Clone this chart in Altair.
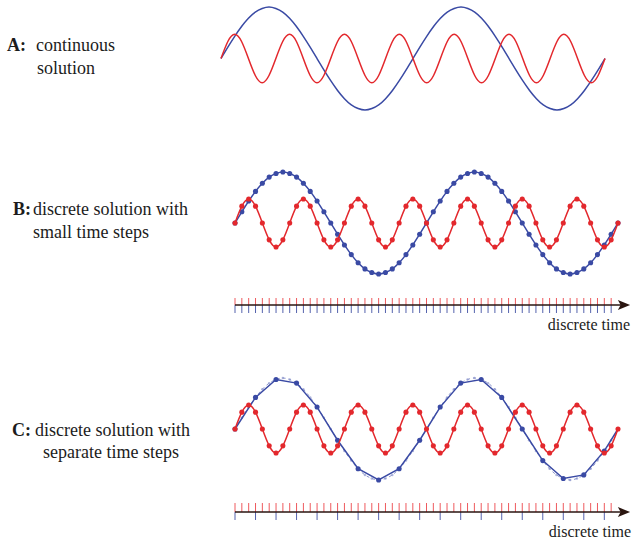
import altair as alt
import pandas as pd

# Sampled solutions at each discrete time step: slow mode (blue), fast mode (red)
blue_values = [
    0.00, 0.22, 0.43, 0.62, 0.78, 0.90, 0.97, 1.00, 0.97, 0.90, 0.78, 0.62, 0.43, 0.22,
    0.00, -0.22, -0.43, -0.62, -0.78, -0.90, -0.97, -1.00, -0.97, -0.90, -0.78, -0.62, -0.43, -0.22,
    0.00, 0.22, 0.43, 0.62, 0.78, 0.90, 0.97, 1.00, 0.97, 0.90, 0.78, 0.62, 0.43, 0.22,
    0.00, -0.22, -0.43, -0.62, -0.78, -0.90, -0.97, -1.00, -0.97, -0.90, -0.78, -0.62, -0.43, -0.22,
    0.00,
]
red_values = [
    0.00, 0.33, 0.47, 0.33, 0.00, -0.33, -0.47, -0.33,
    0.00, 0.33, 0.47, 0.33, 0.00, -0.33, -0.47, -0.33,
    0.00, 0.33, 0.47, 0.33, 0.00, -0.33, -0.47, -0.33,
    0.00, 0.33, 0.47, 0.33, 0.00, -0.33, -0.47, -0.33,
    0.00, 0.33, 0.47, 0.33, 0.00, -0.33, -0.47, -0.33,
    0.00, 0.33, 0.47, 0.33, 0.00, -0.33, -0.47, -0.33,
    0.00, 0.33, 0.47, 0.33, 0.00, -0.33, -0.47, -0.33,
    0.00,
]
steps = list(range(len(blue_values)))
fine_ticks = list(range(56))            # small time steps on the time axis
coarse_steps = list(range(0, 55, 3))    # separate, larger steps for the slow mode
coarse_line_steps = coarse_steps + [56]

BLUE = "#3a4aa4"
RED = "#e3282d"
BLUE_TICK = "#5563ad"
RED_TICK = "#ee5a5e"
DARK = "#2a1510"
TEXT = "#1c1c1c"
FONT = "Times New Roman, Liberation Serif, Times, serif"

samples = pd.DataFrame({"step": steps, "blue": blue_values, "red": red_values})
coarse_dots = samples[samples["step"].isin(coarse_steps)]
coarse_line = samples[samples["step"].isin(coarse_line_steps)]
one_row = pd.DataFrame({"k": [0]})


def x_enc(rng):
    return alt.X("step:Q", scale=alt.Scale(domain=[0, 56], range=rng), axis=None)


def y_enc(field, rng):
    return alt.Y(f"{field}:Q", scale=alt.Scale(domain=[-1, 1], range=rng), axis=None)


def curve(data, field, color, xr, yr, width=1.5, **kw):
    return alt.Chart(data).mark_line(color=color, strokeWidth=width, **kw).encode(
        x=x_enc(xr), y=y_enc(field, yr)
    )


def dots(data, field, color, xr, yr, size=26, opacity=1.0):
    return alt.Chart(data).mark_circle(color=color, size=size, opacity=opacity).encode(
        x=x_enc(xr), y=y_enc(field, yr)
    )


def label(text, x, y, size=18, bold=False, align="left"):
    return alt.Chart(one_row).mark_text(
        text=text, align=align, baseline="alphabetic", font=FONT,
        fontSize=size, fontWeight="bold" if bold else "normal", color=TEXT,
    ).encode(x=alt.value(x), y=alt.value(y))


def ticks(values, color, xr, y_top, y_bottom):
    df = pd.DataFrame({"step": values})
    return alt.Chart(df).mark_rule(color=color, strokeWidth=1).encode(
        x=x_enc(xr), y=alt.value(y_top), y2=alt.value(y_bottom)
    )


def time_axis(y):
    line = alt.Chart(one_row).mark_rule(color=DARK, strokeWidth=1.6).encode(
        x=alt.value(235), x2=alt.value(624), y=alt.value(y)
    )
    head = alt.Chart(one_row).mark_point(
        shape="M-1,-0.8L1,0L-1,0.8L-0.55,0Z", filled=True, size=150,
        color=DARK, opacity=1,
    ).encode(x=alt.value(624), y=alt.value(y))
    return line + head


# A: continuous solution
xa = [221, 605]
ya = [110, 7]
panel_a = alt.layer(
    curve(samples, "blue", BLUE, xa, ya, interpolate="natural"),
    curve(samples, "red", RED, xa, ya, interpolate="natural"),
    label("A:", 7, 51, bold=True),
    label("continuous", 36, 51),
    label("solution", 37, 74),
).properties(width=633, height=140)

# B: both modes on the small time steps
xb = [235, 618]
yb = [134, 32]
panel_b = alt.layer(
    curve(samples, "blue", BLUE, xb, yb, interpolate="natural"),
    dots(samples, "blue", BLUE, xb, yb),
    curve(samples, "red", RED, xb, yb, interpolate="natural"),
    dots(samples, "red", RED, xb, yb),
    ticks(fine_ticks, RED_TICK, xb, 158, 165),
    ticks(fine_ticks, BLUE_TICK, xb, 165, 173),
    time_axis(165),
    label("B:", 13, 75, bold=True),
    label("discrete solution with", 33, 75),
    label("small time steps", 33, 98),
    label("discrete time", 630, 190, size=16, align="right"),
).properties(width=633, height=210)

# C: slow mode on larger separate steps, continuous slow mode dashed behind
xc = [235, 618]
yc = [130, 28]
panel_c = alt.layer(
    curve(samples, "blue", "#8a94cc", xc, yc, width=1, interpolate="natural",
          strokeDash=[3, 3]),
    dots(samples, "blue", "#8a94cc", xc, yc, size=6, opacity=0.7),
    curve(coarse_line, "blue", BLUE, xc, yc),
    dots(coarse_dots, "blue", BLUE, xc, yc),
    curve(samples, "red", RED, xc, yc, interpolate="natural"),
    dots(samples, "red", RED, xc, yc),
    ticks(fine_ticks, RED_TICK, xc, 153, 162),
    ticks(coarse_steps, BLUE_TICK, xc, 162, 170),
    time_axis(162),
    label("C:", 12, 86, bold=True),
    label("discrete solution with", 35, 86),
    label("separate time steps", 43, 108),
    label("discrete time", 631, 187, size=16, align="right"),
).properties(width=633, height=192)

chart = alt.vconcat(panel_a, panel_b, panel_c, spacing=0).properties(
    padding=0, background="white"
).configure_view(stroke=None)

chart.save("out.html", embed_options={"renderer": "svg", "actions": False})
